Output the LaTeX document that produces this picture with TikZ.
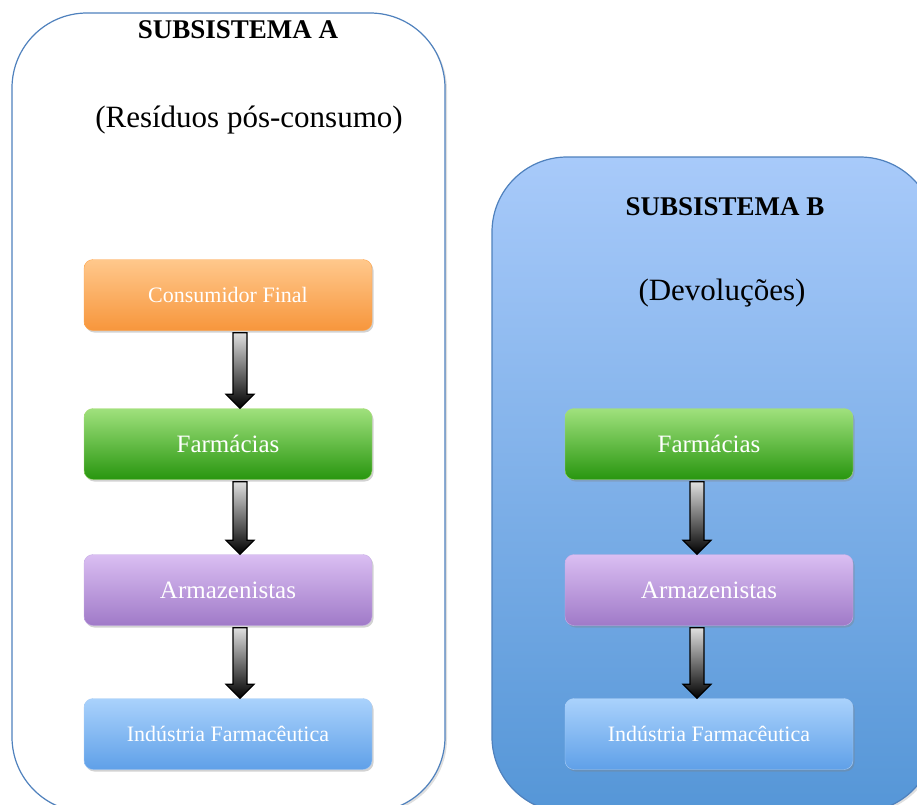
\documentclass[tikz,border=0pt]{standalone}
\usepackage{fontspec}
\setmainfont{Liberation Serif}
\usetikzlibrary{shadows}
\definecolor{edgeblue}{HTML}{4F81BD}
\tikzset{
  x=1pt,y=-1pt,
  bigbox/.style={draw=edgeblue, line width=1.2pt, rounded corners=75pt},
  stepbox/.style={rounded corners=9pt, minimum width=288pt, minimum height=71pt,
    text=white, drop shadow={opacity=0.35,shadow xshift=1.5pt,shadow yshift=-2pt}},
  orangebox/.style={stepbox, draw=orange!70!white, top color={rgb,255:red,255;green,200;blue,140}, bottom color={rgb,255:red,247;green,150;blue,60}},
  greenbox/.style={stepbox, draw={rgb,255:red,170;green,220;blue,120}, top color={rgb,255:red,160;green,225;blue,125}, bottom color={rgb,255:red,40;green,150;blue,15}},
  purplebox/.style={stepbox, draw={rgb,255:red,200;green,175;blue,230}, top color={rgb,255:red,218;green,190;blue,242}, bottom color={rgb,255:red,160;green,122;blue,200}},
  bluebox/.style={stepbox, draw={rgb,255:red,170;green,205;blue,245}, top color={rgb,255:red,170;green,210;blue,252}, bottom color={rgb,255:red,95;green,160;blue,232}},
  flowarrow/.style={draw=black, line width=1.2pt, top color=gray!25, bottom color=black},
  titletext/.style={font=\bfseries\fontsize{27}{30}\selectfont},
  subtext/.style={font=\fontsize{31}{34}\selectfont},
  bigtext/.style={font=\fontsize{25}{28}\selectfont},
  smalltext/.style={font=\fontsize{22}{25}\selectfont},
}
% #1 from node, #2 to node, #3 horizontal offset of the arrow axis
\newcommand{\flowarr}[3]{%
  \path[flowarrow] ([xshift=#3pt-7pt,yshift=-2pt]#1.south) -- ([xshift=#3pt+7pt,yshift=-2pt]#1.south)
    -- ([xshift=#3pt+7pt,yshift=14pt]#2.north) -- ([xshift=#3pt+14pt,yshift=14pt]#2.north)
    -- ([xshift=#3pt]#2.north) -- ([xshift=#3pt-14pt,yshift=14pt]#2.north)
    -- ([xshift=#3pt-7pt,yshift=14pt]#2.north) -- cycle;}
\begin{document}
\begin{tikzpicture}
\useasboundingbox (0,0) rectangle (917,804);
\begin{scope}
\clip (0,0) rectangle (917,804);
% subsystem A
\path[bigbox, fill=white, drop shadow={opacity=0.25,shadow xshift=2pt,shadow yshift=-2pt}] (12,13) rectangle (445,812);
% subsystem B
\path[bigbox, top color={rgb,255:red,168;green,202;blue,250}, bottom color={rgb,255:red,85;green,150;blue,215}, drop shadow={opacity=0.25,shadow xshift=2pt,shadow yshift=-2pt}] (492,157) rectangle (935,812);
\end{scope}
\node[titletext] (tA) at (238,30) {SUBSISTEMA A};
\node[subtext] (sA) at (249,120) {(Resíduos pós-consumo)};
\node[titletext] (tB) at (725,207) {SUBSISTEMA B};
\node[subtext] (sB) at (722,293) {(Devoluções)};
% column A
\node[orangebox, smalltext] (a1) at (228,295) {Consumidor Final};
\node[greenbox, bigtext] (a2) at (228,444) {Farmácias};
\node[purplebox, bigtext] (a3) at (228,590) {Armazenistas};
\node[bluebox, smalltext] (a4) at (228,734) {Indústria Farmacêutica};
% column B
\node[greenbox, bigtext] (b2) at (709,444) {Farmácias};
\node[purplebox, bigtext] (b3) at (709,590) {Armazenistas};
\node[bluebox, smalltext] (b4) at (709,734) {Indústria Farmacêutica};
% arrows
\flowarr{a1}{a2}{12}
\flowarr{a2}{a3}{12}
\flowarr{a3}{a4}{12}
\flowarr{b2}{b3}{-12}
\flowarr{b3}{b4}{-12}
\end{tikzpicture}
\end{document}
